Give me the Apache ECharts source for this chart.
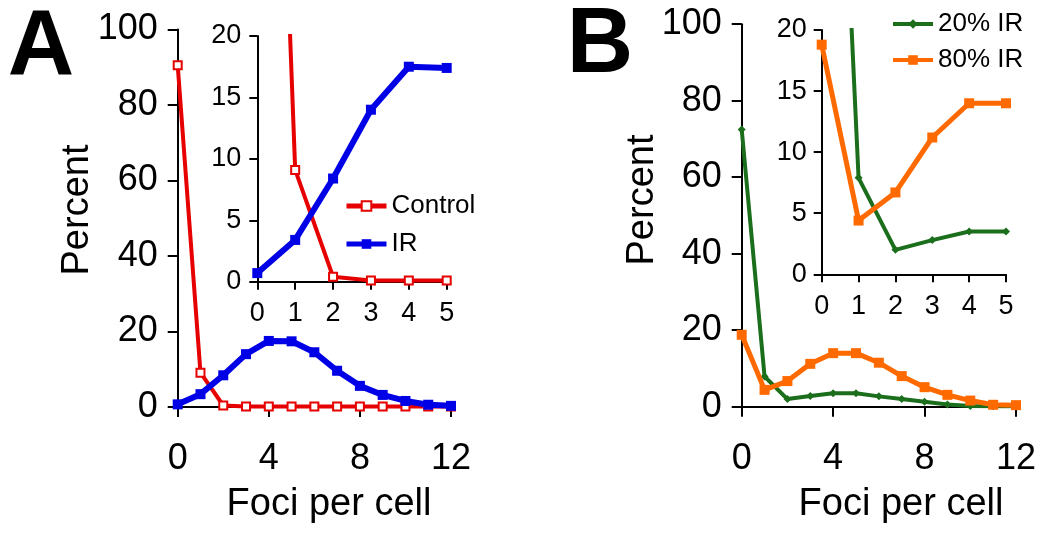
<!DOCTYPE html>
<html><head><meta charset="utf-8">
<script src="https://cdn.jsdelivr.net/npm/echarts@6/dist/echarts.min.js"></script>
<style>html,body{margin:0;padding:0;background:#fff}#c{width:1050px;height:537px}</style>
</head><body><div id="c"></div>
<script>
// ---- data ----
const fociMain = [0,1,2,3,4,5,6,7,8,9,10,11,12];
const fociInsetCount = 6; // inset shows foci 0..5
const mainXTicks = [0,4,8,12];
const mainYTicks = [0,20,40,60,80,100];
const insetXTicks = [0,1,2,3,4,5];
const insetYTicks = [0,5,10,15,20];
// Panel A
const controlPct = [90.5, 9.1, 0.4, 0.1, 0.1, 0.1, 0.1, 0.1, 0.1, 0.1, 0.1, 0.1, 0.1];
const irPct      = [0.7, 3.4, 8.4, 14.0, 17.5, 17.4, 14.5, 9.6, 5.6, 3.2, 1.6, 0.6, 0.3];
// Panel B
const ir20Pct = [72.5, 7.9, 2.0, 2.8, 3.5, 3.5, 2.7, 2.0, 1.3, 0.6, 0.2, 0.1, 0.1];
const ir80Pct = [18.8, 4.4, 6.7, 11.2, 14.0, 14.0, 11.5, 8.0, 5.1, 3.1, 1.6, 0.5, 0.4];

const legendA = ['Control', 'IR'];
const legendB = ['20% IR', '80% IR'];

// ---- helpers ----
const FONT = 'Liberation Sans, Arial, sans-serif';
const pairs = (vals, n) => fociMain.slice(0, n || fociMain.length).map((x, i) => [x, vals[i]]);
const step = t => t[1] - t[0];

function axis(grid, ticks, fs, margin, tickLen) {
  return {
    type: 'value', gridIndex: grid, min: ticks[0], max: ticks[ticks.length - 1], interval: step(ticks),
    axisLine: { show: true, onZero: false, lineStyle: { color: '#000', width: 2 } },
    axisTick: { show: true, length: tickLen, lineStyle: { color: '#000', width: 2 } },
    axisLabel: { color: '#000', fontSize: fs, fontFamily: FONT, margin: margin },
    splitLine: { show: false }
  };
}

const RED = '#e60000', BLUE = '#0000e6', GREEN = '#1b6e1b', ORANGE = '#ff6a00';

function controlSeries(x, y, n) {
  return {
    name: legendA[0], type: 'line', xAxisIndex: x, yAxisIndex: y, data: pairs(controlPct, n),
    symbol: 'rect', symbolSize: 8, showAllSymbol: true,
    lineStyle: { color: RED, width: 4 },
    itemStyle: { color: '#fff', borderColor: RED, borderWidth: 2 },
    emphasis: { disabled: true }, animation: false, z: 2
  };
}
function irSeries(x, y, n) {
  return {
    name: legendA[1], type: 'line', xAxisIndex: x, yAxisIndex: y, data: pairs(irPct, n),
    symbol: 'rect', symbolSize: 10, showAllSymbol: true,
    lineStyle: { color: BLUE, width: 6 },
    itemStyle: { color: BLUE },
    emphasis: { disabled: true }, animation: false, z: 3
  };
}
function ir20Series(x, y, n) {
  return {
    name: legendB[0], type: 'line', xAxisIndex: x, yAxisIndex: y, data: pairs(ir20Pct, n),
    symbol: 'diamond', symbolSize: 8, showAllSymbol: true,
    lineStyle: { color: GREEN, width: 4 },
    itemStyle: { color: GREEN },
    emphasis: { disabled: true }, animation: false, z: 2
  };
}
function ir80Series(x, y, n) {
  return {
    name: legendB[1], type: 'line', xAxisIndex: x, yAxisIndex: y, data: pairs(ir80Pct, n),
    symbol: 'rect', symbolSize: 10, showAllSymbol: true,
    lineStyle: { color: ORANGE, width: 5 },
    itemStyle: { color: ORANGE },
    emphasis: { disabled: true }, animation: false, z: 3
  };
}

const chart = echarts.init(document.getElementById('c'), null, { renderer: 'canvas' });
chart.setOption({
  backgroundColor: '#fff',
  animation: false,
  grid: [
    { left: 177.7, top: 29.5, width: 273.3, height: 377.5 },   // A main
    { left: 257.3, top: 36,   width: 189.4, height: 245.7 },   // A inset
    { left: 741.7, top: 24.2, width: 274.3, height: 382.5 },   // B main
    { left: 821.7, top: 30,   width: 184.3, height: 244.3 }    // B inset
  ],
  xAxis: [
    axis(0, mainXTicks, 36, 34, 10),
    axis(1, insetXTicks, 27, 18, 8),
    axis(2, mainXTicks, 36, 34, 10),
    axis(3, insetXTicks, 27, 19, 8)
  ],
  yAxis: [
    axis(0, mainYTicks, 36, 20, 10),
    axis(1, insetYTicks, 27, 16, 8),
    axis(2, mainYTicks, 36, 20, 10),
    axis(3, insetYTicks, 27, 15, 8)
  ],
  legend: [
    { data: legendA, orient: 'vertical', left: 339, top: 188, itemWidth: 40, itemHeight: 12, itemGap: 12,
      lineStyle: { width: 5 },
      textStyle: { color: '#000', fontSize: 26, fontFamily: FONT }, selectedMode: false },
    { data: legendB, orient: 'vertical', left: 886, top: 6, itemWidth: 40, itemHeight: 12, itemGap: 10,
      lineStyle: { width: 4 },
      textStyle: { color: '#000', fontSize: 26, fontFamily: FONT }, selectedMode: false }
  ],
  series: [
    controlSeries(0, 0), irSeries(0, 0),
    controlSeries(1, 1, fociInsetCount), irSeries(1, 1, fociInsetCount),
    ir20Series(2, 2), ir80Series(2, 2),
    ir20Series(3, 3, fociInsetCount), ir80Series(3, 3, fociInsetCount)
  ],
  graphic: [
    { type: 'text', x: 41, y: 49, style: { text: 'A', font: 'bold 92px ' + FONT, fill: '#000', align: 'center', verticalAlign: 'middle' } },
    { type: 'text', x: 600, y: 47, style: { text: 'B', font: 'bold 92px ' + FONT, fill: '#000', align: 'center', verticalAlign: 'middle' } },
    { type: 'text', x: 78, y: 210, rotation: Math.PI / 2, style: { text: 'Percent', font: '38px ' + FONT, fill: '#000', align: 'center', verticalAlign: 'middle' } },
    { type: 'text', x: 643, y: 200, rotation: Math.PI / 2, style: { text: 'Percent', font: '38px ' + FONT, fill: '#000', align: 'center', verticalAlign: 'middle' } },
    { type: 'text', x: 329, y: 505, style: { text: 'Foci per cell', font: '38px ' + FONT, fill: '#000', align: 'center', verticalAlign: 'middle' } },
    { type: 'text', x: 901, y: 505, style: { text: 'Foci per cell', font: '38px ' + FONT, fill: '#000', align: 'center', verticalAlign: 'middle' } }
  ]
});
</script>
</body></html>
